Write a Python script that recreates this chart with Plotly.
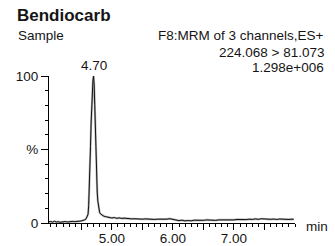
import plotly.graph_objects as go

# ---- data ----
time_min = [3.97, 4.00, 4.03, 4.06, 4.09, 4.12, 4.15, 4.18, 4.21, 4.24, 4.27, 4.30, 4.33, 4.36,
            4.39, 4.42, 4.45, 4.48, 4.51, 4.54, 4.57, 4.59, 4.61, 4.62, 4.63, 4.64, 4.65, 4.66,
            4.67, 4.68, 4.69, 4.70, 4.71, 4.72, 4.73, 4.74, 4.75, 4.76, 4.77, 4.78, 4.79, 4.80,
            4.82, 4.84, 4.87, 4.90, 4.93, 4.96, 5.00, 5.04, 5.08, 5.12, 5.16, 5.20, 5.24, 5.28,
            5.32, 5.36, 5.40, 5.45, 5.50, 5.55, 5.60, 5.65, 5.70, 5.75, 5.80, 5.85, 5.90, 5.95,
            6.00, 6.05, 6.10, 6.15, 6.20, 6.25, 6.30, 6.35, 6.40, 6.45, 6.50, 6.55, 6.60, 6.65,
            6.70, 6.75, 6.80, 6.85, 6.90, 6.95, 7.00, 7.05, 7.10, 7.15, 7.20, 7.25, 7.30, 7.35,
            7.40, 7.45, 7.50, 7.55, 7.60, 7.65, 7.70, 7.75, 7.80, 7.85, 7.90, 7.95, 7.98]
intensity_pct = [0.8, 1.0, 0.6, 1.2, 0.7, 0.9, 0.5, 0.8, 0.6, 1.0, 0.7, 0.9, 0.8, 1.1,
                 0.9, 1.2, 1.0, 1.3, 1.5, 1.8, 2.4, 4.0, 6.0, 12, 22, 36, 52, 68,
                 81, 91, 97, 100, 94, 80, 62, 45, 31, 21, 15, 11, 8.5, 7.0,
                 6.0, 5.2, 4.6, 4.3, 4.0, 3.6, 3.4, 3.7, 3.2, 3.5, 3.1, 3.3, 3.0, 3.2,
                 2.8, 2.9, 2.7, 2.9, 2.6, 2.8, 2.5, 2.7, 2.4, 2.6, 2.5, 2.8, 2.6, 2.9,
                 2.5, 2.2, 1.6, 1.9, 1.4, 1.7, 1.5, 1.9, 1.7, 2.0, 1.8, 2.1, 1.9, 2.2,
                 1.8, 2.1, 2.0, 2.3, 2.0, 2.2, 2.1, 2.4, 2.2, 2.5, 2.3, 2.6, 2.4, 2.8,
                 2.5, 2.9, 2.6, 2.8, 2.5, 2.7, 2.4, 2.7, 2.5, 2.6, 2.4, 2.6, 2.5]

x_tick_vals = [4.5, 5.0, 5.5, 6.0, 6.5, 7.0, 7.5]
x_tick_text = ["", "5.00", "", "6.00", "", "7.00", ""]
y_tick_vals = [0, 50, 100]
y_tick_text = ["0", "%", "100"]

peak_time = 4.70
peak_label = "4.70"
compound = "Bendiocarb"
sample = "Sample"
header_lines = ["F8:MRM of 3 channels,ES+", "224.068 > 81.073", "1.298e+006"]

# ---- layout geometry (pixels) ----
W, H = 335, 246
L, R, T, B = 49, 295, 76, 223
FONT = "Liberation Sans, Arial, sans-serif"
TXT = "#151515"


def px(x):
    return (x - L) / (R - L)


def py(y):
    return (B - y) / (B - T)


fig = go.Figure()
fig.add_trace(go.Scatter(x=time_min, y=intensity_pct, mode="lines",
                         line=dict(color="#b8b8b8", width=2.2), hoverinfo="skip"))
fig.add_trace(go.Scatter(x=time_min, y=intensity_pct, mode="lines",
                         line=dict(color="#111111", width=1.0)))

annots = [
    dict(text=f"<b>{compound}</b>", x=px(15), y=py(15), xanchor="left", yanchor="middle",
         font=dict(size=17, color=TXT)),
    dict(text=sample, x=px(16), y=py(36), xanchor="left", yanchor="middle",
         font=dict(size=13.5, color=TXT)),
]
for i, line in enumerate(header_lines):
    annots.append(dict(text=line, x=px(326), y=py(36 + 16 * i), xanchor="right",
                       yanchor="middle", font=dict(size=13.5, color=TXT)))
annots.append(dict(text="min", x=px(304), y=py(226), xanchor="left", yanchor="middle",
                   font=dict(size=13.5, color=TXT)))
for a in annots:
    a.update(xref="paper", yref="paper", showarrow=False)

annots.append(dict(text=peak_label, x=peak_time, y=100, xref="x", yref="y",
                   xanchor="center", yanchor="bottom", yshift=1, showarrow=False,
                   font=dict(size=13.5, color=TXT)))

fig.update_layout(
    width=W, height=H, autosize=False,
    margin=dict(l=L, r=W - R, t=T, b=H - B, pad=0, autoexpand=False),
    paper_bgcolor="white", plot_bgcolor="white",
    showlegend=False,
    font=dict(family=FONT, size=13.5, color=TXT),
    annotations=annots,
    xaxis=dict(range=[3.97, 8.0], showgrid=False, zeroline=False, automargin=False,
               showline=True, linecolor="black", linewidth=1,
               tickmode="array", tickvals=x_tick_vals, ticktext=x_tick_text,
               ticks="outside", ticklen=6, tickcolor="black", tickwidth=1,
               ticklabelstandoff=-3,
               tickfont=dict(size=13.5, color=TXT),
               minor=dict(dtick=0.1, tick0=0, ticks="outside", ticklen=3,
                          tickcolor="black", tickwidth=1, showgrid=False)),
    yaxis=dict(range=[0, 100], showgrid=False, zeroline=False, automargin=False,
               showline=True, linecolor="black", linewidth=1,
               tickmode="array", tickvals=y_tick_vals, ticktext=y_tick_text,
               ticks="outside", ticklen=7, tickcolor="black", tickwidth=1,
               tickfont=dict(size=13.5, color=TXT),
               minor=dict(dtick=10, tick0=0, ticks="outside", ticklen=3,
                          tickcolor="black", tickwidth=1, showgrid=False)),
)

fig.write_html("out.html", config={"displayModeBar": False},
               post_script="document.body.style.margin='0';document.body.style.overflow='hidden';")
